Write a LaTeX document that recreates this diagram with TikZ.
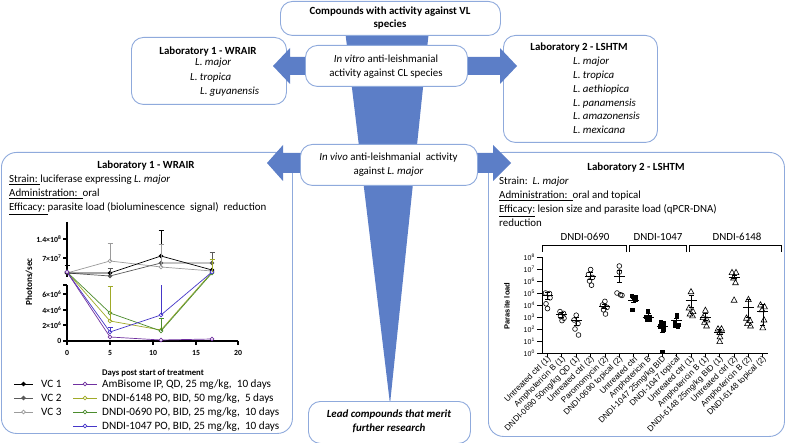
\documentclass[tikz,border=0pt]{standalone}
\usepackage{fontspec}
\setmainfont{Carlito}
\newfontfamily\arialf{Liberation Sans}
\usetikzlibrary{calc}
\definecolor{boxc}{RGB}{143,170,220}
\definecolor{arrc}{RGB}{92,126,199}
\definecolor{cpurple}{RGB}{112,48,160}
\definecolor{colive}{RGB}{160,170,40}
\definecolor{cgreen}{RGB}{75,140,45}
\definecolor{cblue}{RGB}{70,55,200}
\definecolor{cdgrey}{RGB}{90,90,90}
\definecolor{clgrey}{RGB}{155,155,155}
\newcommand\bodyf{\fontsize{10.9}{13.5}\selectfont}
\newcommand\mkC[2]{\draw[pmk] ({#1},{353-12*(#2)}) circle (2.4);}
\newcommand\mkS[2]{\fill ({#1-2.3},{353-12*(#2)-2.3}) rectangle ({#1+2.3},{353-12*(#2)+2.3});}
\newcommand\mkT[2]{\draw[pmk] ({#1},{353-12*(#2)-3.3}) -- ({#1+2.9},{353-12*(#2)+2}) -- ({#1-2.9},{353-12*(#2)+2}) -- cycle;}
\newcommand\mbar[4]{%
\draw[pbar] ({#1-5.5},{353-12*(#2)}) -- ({#1+5.5},{353-12*(#2)});
\draw[pbar] ({#1},{353-12*(#3)}) -- ({#1},{353-12*(#4)});
\draw[pbar] ({#1-2.5},{353-12*(#3)}) -- ({#1+2.5},{353-12*(#3)});
\draw[pbar] ({#1-2.5},{353-12*(#4)}) -- ({#1+2.5},{353-12*(#4)});}
\newcommand\clab[2]{\node[clabel] (cl#1) at ({547.5+(#1-1)*14.35+2.5},357.5) {#2};}
\newcommand\ebar[4]{\draw[#1] (#2,#3) -- (#2,#4) (#2-2.5,#4) -- (#2+2.5,#4);}
\begin{document}
\begin{tikzpicture}[x=1pt,y=-1pt,
  box/.style={draw=boxc,line width=0.9pt,fill=white,rounded corners=12pt,inner sep=0pt,anchor=north west},
  txt/.style={font=\bodyf,inner sep=0pt,anchor=base west},
  ttl/.style={font=\bodyf\bfseries,inner sep=0pt,anchor=base},
  ctr/.style={font=\bodyf,inner sep=0pt,align=center},
  ax1/.style={line width=1.1pt,black},
  tk1/.style={font=\bfseries\fontsize{7.8}{8}\selectfont,inner sep=0.5pt},
  ser/.style={line width=0.7pt},
  leg/.style={font=\fontsize{11.2}{12}\selectfont,inner sep=0pt,anchor=base west},
  pmk/.style={line width=0.6pt,black},
  pbar/.style={line width=0.6pt,black},
  clabel/.style={rotate=45,anchor=east,font=\arialf\fontsize{8.2}{8.5}\selectfont,inner sep=0.3pt},
  ytk2/.style={font=\arialf\fontsize{7}{7.5}\selectfont,inner sep=0.5pt,anchor=east},
  brk/.style={line width=0.8pt,black}]
\useasboundingbox (0,0) rectangle (786,443);
% ---------- lab boxes
\node[box,minimum width=155pt,minimum height=67pt] (lab1top) at (131,37) {};
\node[box,minimum width=154pt,minimum height=107pt] (lab2top) at (503,35) {};
\node[box,minimum width=291pt,minimum height=281pt,rounded corners=15pt] (lab1) at (1,152) {};
\node[box,minimum width=296pt,minimum height=284pt,rounded corners=15pt] (lab2) at (488,152) {};
% ---------- funnel and arrows
\fill[arrc] (345,30) -- (429,30) -- (390,404) -- cycle;
\fill[arrc] (273,66) -- (290,48) -- (290,57) -- (500,57) -- (500,48) -- (517,66) -- (500,84) -- (500,75) -- (290,75) -- (290,84) -- cycle;
\fill[arrc] (267,163) -- (283,145) -- (283,153) -- (493,153) -- (493,145) -- (511,163) -- (493,181) -- (493,173) -- (283,173) -- (283,181) -- cycle;
% ---------- centre boxes
\node[box,minimum width=220pt,minimum height=34pt] (top) at (280,1) {};
\node[box,minimum width=162pt,minimum height=41pt] (invitro) at (305,45) {};
\node[box,minimum width=177pt,minimum height=41pt] (invivo) at (300,144) {};
\node[box,minimum width=162pt,minimum height=42pt] (lead) at (308,401) {};
\node[ctr,font=\bodyf\bfseries] (toptxt) at (390,18) {Compounds with activity against VL\\species};
\node[ctr] (invitrotxt) at (386,66.5) {\textit{In vitro} anti-leishmanial\\activity against CL species};
\node[ctr] (invivotxt) at (388.5,164.5) {\textit{In vivo} anti-leishmanial\ \ activity\\against \textit{L. major}};
\node[ctr,font=\bodyf\bfseries\itshape] (leadtxt) at (389,421.5) {Lead compounds that merit\\further research};
% ---------- lab 1 top
\node[ttl] (l1tt) at (208,55) {Laboratory 1 - WRAIR};
\node[txt] (l1s1) at (195,66) {\textit{L. major}};
\node[txt] (l1s2) at (190,80.5) {\textit{L. tropica}};
\node[txt] (l1s3) at (200,94.5) {\textit{L. guyanensis}};
% ---------- lab 2 top
\node[ttl] (l2tt) at (579,51) {Laboratory 2 - LSHTM};
\node[txt] (l2s1) at (573,65) {\textit{L. major}};
\node[txt] (l2s2) at (573,79) {\textit{L. tropica}};
\node[txt] (l2s3) at (573,93) {\textit{L. aethiopica}};
\node[txt] (l2s4) at (573,106.5) {\textit{L. panamensis}};
\node[txt] (l2s5) at (573,120) {\textit{L. amazonensis}};
\node[txt] (l2s6) at (573,133.5) {\textit{L. mexicana}};
% ---------- lab 1 bottom text
\node[ttl] (l1bt) at (146,169) {Laboratory 1 - WRAIR};
\node[txt] (l1b1) at (9,183) {\underline{Strain:\ }luciferase expressing \textit{L. major}};
\node[txt] (l1b2) at (9,197) {\underline{Administration:\ \ }oral};
\node[txt] (l1b3) at (9,211) {\underline{Efficacy:\ }parasite load (bioluminescence\ \ signal)\ \ reduction};
% ---------- chart 1 axes
\draw[ax1] (67,222) -- (67,277);
\draw[ax1] (63,239) -- (67,239) (63,258) -- (67,258);
\draw[ax1] (67,285) -- (67,341) -- (238,341);
\foreach \yy in {285,294,310,325,341} \draw[ax1] (63,\yy) -- (67,\yy);
\foreach \xx in {67,110,153,196,238} \draw[ax1] (\xx,341) -- (\xx,345);
\node[tk1,anchor=east] (y1) at (62,239) {1.4×10\textsuperscript{8}};
\node[tk1,anchor=east] (y2) at (62,258) {7×10\textsuperscript{7}};
\node[tk1,anchor=east] (y3) at (62,294) {6×10\textsuperscript{6}};
\node[tk1,anchor=east] (y4) at (62,310) {4×10\textsuperscript{6}};
\node[tk1,anchor=east] (y5) at (62,325) {2×10\textsuperscript{6}};
\node[tk1,anchor=east] (y6) at (62,341) {0};
\foreach \xx/\ll in {67/0,110/5,153/10,196/15,238/20}
  \node[tk1] (x\ll) at (\xx,353) {\ll};
\node[font=\bfseries\fontsize{9.2}{10}\selectfont,rotate=90,inner sep=0pt] (ylab1) at (29,282) {Photons/sec};
\node[font=\bfseries\fontsize{8.7}{9}\selectfont,inner sep=0pt,anchor=base] (xlab1) at (153,375) {Days post start of treatment};
% ---------- chart 1 series
\draw[ser,clgrey] plot[mark=*,mark size=1.8,mark options={fill=white}] coordinates {(67,273) (110,261) (161,267) (212,271)};
\draw[ser,cdgrey] plot[mark=*,mark size=1.8,mark options={fill=cdgrey}] coordinates {(67,273) (110,276) (161,263) (212,263)};
\draw[ser,black] plot[mark=*,mark size=1.8] coordinates {(67,273) (110,273) (161,256) (212,270)};
\ebar{ser,black}{67}{273}{265}
\ebar{ser,black}{161}{256}{230}
\ebar{ser,cdgrey}{110}{276}{268}
\ebar{ser,cdgrey}{212}{263}{252}
\ebar{ser,clgrey}{110}{261}{243}
\ebar{ser,clgrey}{161}{267}{244}
\draw[ser,colive] plot[mark=*,mark size=1.8,mark options={fill=white}] coordinates {(67,272) (110,321) (161,330) (212,272)};
\draw[ser,cgreen] plot[mark=*,mark size=1.8,mark options={fill=white}] coordinates {(67,272) (110,313) (161,331) (212,273)};
\draw[ser,cblue] plot[mark=*,mark size=1.8,mark options={fill=white}] coordinates {(67,272) (110,332) (161,315) (212,272)};
\draw[ser,cpurple] plot[mark=*,mark size=1.8,mark options={fill=white}] coordinates {(67,272) (110,337) (161,340) (212,339)};
\ebar{ser,colive}{110}{321}{286}
\ebar{ser,colive}{212}{272}{259}
\ebar{ser,cgreen}{161}{331}{318}
\ebar{ser,cblue}{110}{332}{327}
\draw[ser,cblue] (161,315) -- (161,285);
% ---------- chart 1 legend
\foreach \yy/\cc/\ll/\ff in {384/black/1/black,398/cdgrey/2/cdgrey,412/clgrey/3/white}{
  \draw[ser,\cc] (14,\yy) -- (33,\yy);
  \draw[ser,\cc,fill=\ff] (23.5,\yy) circle (1.8);
  \node[leg] (vc\ll) at (41,\yy+3.5) {VC \ll};}
\foreach \yy/\cc/\nn in {384/cpurple/a,398/colive/b,412/cgreen/c,426/cblue/d}{
  \draw[ser,\cc] (73,\yy) -- (97,\yy);
  \draw[ser,\cc,fill=white] (85,\yy) circle (1.8);}
\node[leg] (lga) at (102,387.5) {AmBisome IP, QD, 25 mg/kg,\ \ 10 days};
\node[leg] (lgb) at (102,401.5) {DNDI-6148 PO, BID, 50 mg/kg,\ \ 5 days};
\node[leg] (lgc) at (102,415.5) {DNDI-0690 PO, BID, 25 mg/kg,\ \ 10 days};
\node[leg] (lgd) at (102,429.5) {DNDI-1047 PO, BID, 25 mg/kg,\ \ 10 days};
% ---------- lab 2 bottom text
\node[ttl] (l2bt) at (636,171) {Laboratory 2 - LSHTM};
\node[txt] (l2b1) at (499,185) {Strain:\ \ \textit{L. major}};
\node[txt] (l2b2) at (499,199) {\underline{Administration:\ \ }oral and topical};
\node[txt] (l2b3) at (499,213) {\underline{Efficacy:}\ lesion size and parasite load (qPCR-DNA)};
\node[txt] (l2b4) at (499,226.5) {reduction};
% ---------- chart 2
\draw[brk] (542,252) -- (542,245) -- (626,245) -- (626,252);
\draw[brk] (629,252) -- (629,245) -- (686,245) -- (686,252);
\draw[brk] (689,252) -- (689,245) -- (781,245) -- (781,252);
\node[font=\fontsize{10.9}{12}\selectfont,inner sep=0pt,anchor=base] (g1) at (585,241) {DNDI-0690};
\node[font=\fontsize{10.9}{12}\selectfont,inner sep=0pt,anchor=base] (g2) at (658,241) {DNDI-1047};
\node[font=\fontsize{10.9}{12}\selectfont,inner sep=0pt,anchor=base] (g3) at (737,241) {DNDI-6148};
\draw[line width=1pt] (542,257) -- (542,353) -- (768,353);
\foreach \n in {0,...,8}{
  \draw[line width=0.8pt] (537,{353-12*\n}) -- (542,{353-12*\n});
  \node[ytk2] (yt\n) at (535.5,{353-12*\n}) {10\textsuperscript{\n}};}
\foreach \i in {1,...,16} \draw[line width=0.8pt] ({547.5+(\i-1)*14.35},353) -- ({547.5+(\i-1)*14.35},357);
\node[font=\arialf\bfseries\fontsize{7.5}{8}\selectfont,rotate=90,inner sep=0pt] (ylab2) at (507,306) {Parasite load};
\clab{1}{Untreated ctrl (1)}
\clab{2}{Amphotericin B (1)}
\clab{3}{DNDI-0690 50mg/kg QD (1)}
\clab{4}{Untreated ctrl (2)}
\clab{5}{Paromomycin (2)}
\clab{6}{DNDI-0690 topical (2)}
\clab{7}{Untreated ctrl}
\clab{8}{Amphotericin B}
\clab{9}{DNDI-1047 25mg/kg BID}
\clab{10}{DNDI-1047 topical}
\clab{11}{Untreated ctrl (1)}
\clab{12}{Amphotericin B (1)}
\clab{13}{DNDI-6148 25mg/kg BID (1)}
\clab{14}{Untreated ctrl (2)}
\clab{15}{Amphotericin B (2)}
\clab{16}{DNDI-6148 topical (2)}
% data
\mkC{545.5}{5.0} \mkC{549.5}{4.95} \mkC{550}{4.6} \mkC{546}{4.1} \mkC{547.5}{3.7} \mbar{547.5}{4.8}{4.5}{5.05}
\mkC{560}{3.45} \mkC{563.5}{3.3} \mkC{560.5}{3.05} \mkC{564}{2.9} \mkC{562}{2.7} \mbar{561.9}{3.2}{3.0}{3.4}
\mkC{576.2}{3.15} \mkC{574}{2.75} \mkC{578}{2.45} \mkC{575}{2.0} \mkC{578.5}{1.5} \mbar{576.2}{2.7}{2.3}{3.0}
\mkC{590.6}{6.95} \mkC{588.5}{6.55} \mkC{592.5}{6.3} \mkC{589.5}{6.0} \mkC{591.5}{5.65} \mbar{590.6}{6.4}{6.1}{6.7}
\mkC{604.9}{4.3} \mkC{602.5}{4.0} \mkC{607}{3.8} \mkC{603.5}{3.6} \mkC{605.5}{3.25} \mbar{604.9}{3.9}{3.7}{4.1}
\mkC{619.3}{7.25} \mkC{619.3}{6.75} \mkC{617}{5.0} \mkC{620.5}{4.85} \mkC{622}{4.8} \mbar{619.3}{6.35}{5.9}{6.9}
\mkS{632}{4.75} \mkS{635.5}{4.65} \mkS{634}{4.5} \mkS{636}{4.45} \mkS{632.5}{3.6} \mbar{633.6}{4.4}{4.2}{4.6}
\mkS{648}{3.45} \mkS{646}{3.0} \mkS{649.5}{2.95} \mkS{647}{2.8} \mkS{650}{2.75} \mbar{648}{3.0}{2.8}{3.3}
\mkS{661}{2.6} \mkS{664}{2.45} \mkS{660.5}{2.2} \mkS{663.5}{1.95} \mkS{662.3}{0.1} \mbar{662.3}{2.2}{1.7}{2.5}
\mkS{677}{3.15} \mkS{675}{2.5} \mkS{678.5}{2.35} \mkS{675.5}{2.25} \mkS{678}{2.2} \mbar{676.7}{2.7}{2.4}{2.9}
\mkT{691}{5.1} \mkT{689}{3.75} \mkT{693}{3.45} \mkT{690}{3.25} \mkT{692.5}{3.1} \mbar{691}{4.4}{3.8}{4.8}
\mkT{705.4}{3.55} \mkT{703}{2.95} \mkT{707}{2.75} \mkT{704.5}{2.55} \mkT{706.5}{2.25} \mbar{705.4}{3.0}{2.7}{3.3}
\mkT{718}{2.0} \mkT{721.5}{2.0} \mkT{719.7}{1.7} \mkT{720}{1.35} \mkT{719.7}{0.95} \mbar{719.7}{1.75}{1.55}{1.95}
\mkT{732}{6.7} \mkT{736}{6.7} \mkT{733.5}{6.25} \mkT{735.5}{5.85} \mkT{734.1}{4.4} \mbar{734.1}{6.3}{6.2}{6.5}
\mkT{748.4}{4.45} \mkT{746.5}{2.9} \mkT{750}{2.7} \mkT{747.5}{2.45} \mkT{750.5}{2.25} \mbar{748.4}{3.8}{3.0}{4.5}
\mkT{760.5}{4.0} \mkT{764.5}{3.85} \mkT{762}{3.6} \mkT{764}{2.75} \mkT{762.8}{2.1} \mbar{762.8}{3.5}{2.3}{4.1}
\end{tikzpicture}
\end{document}
